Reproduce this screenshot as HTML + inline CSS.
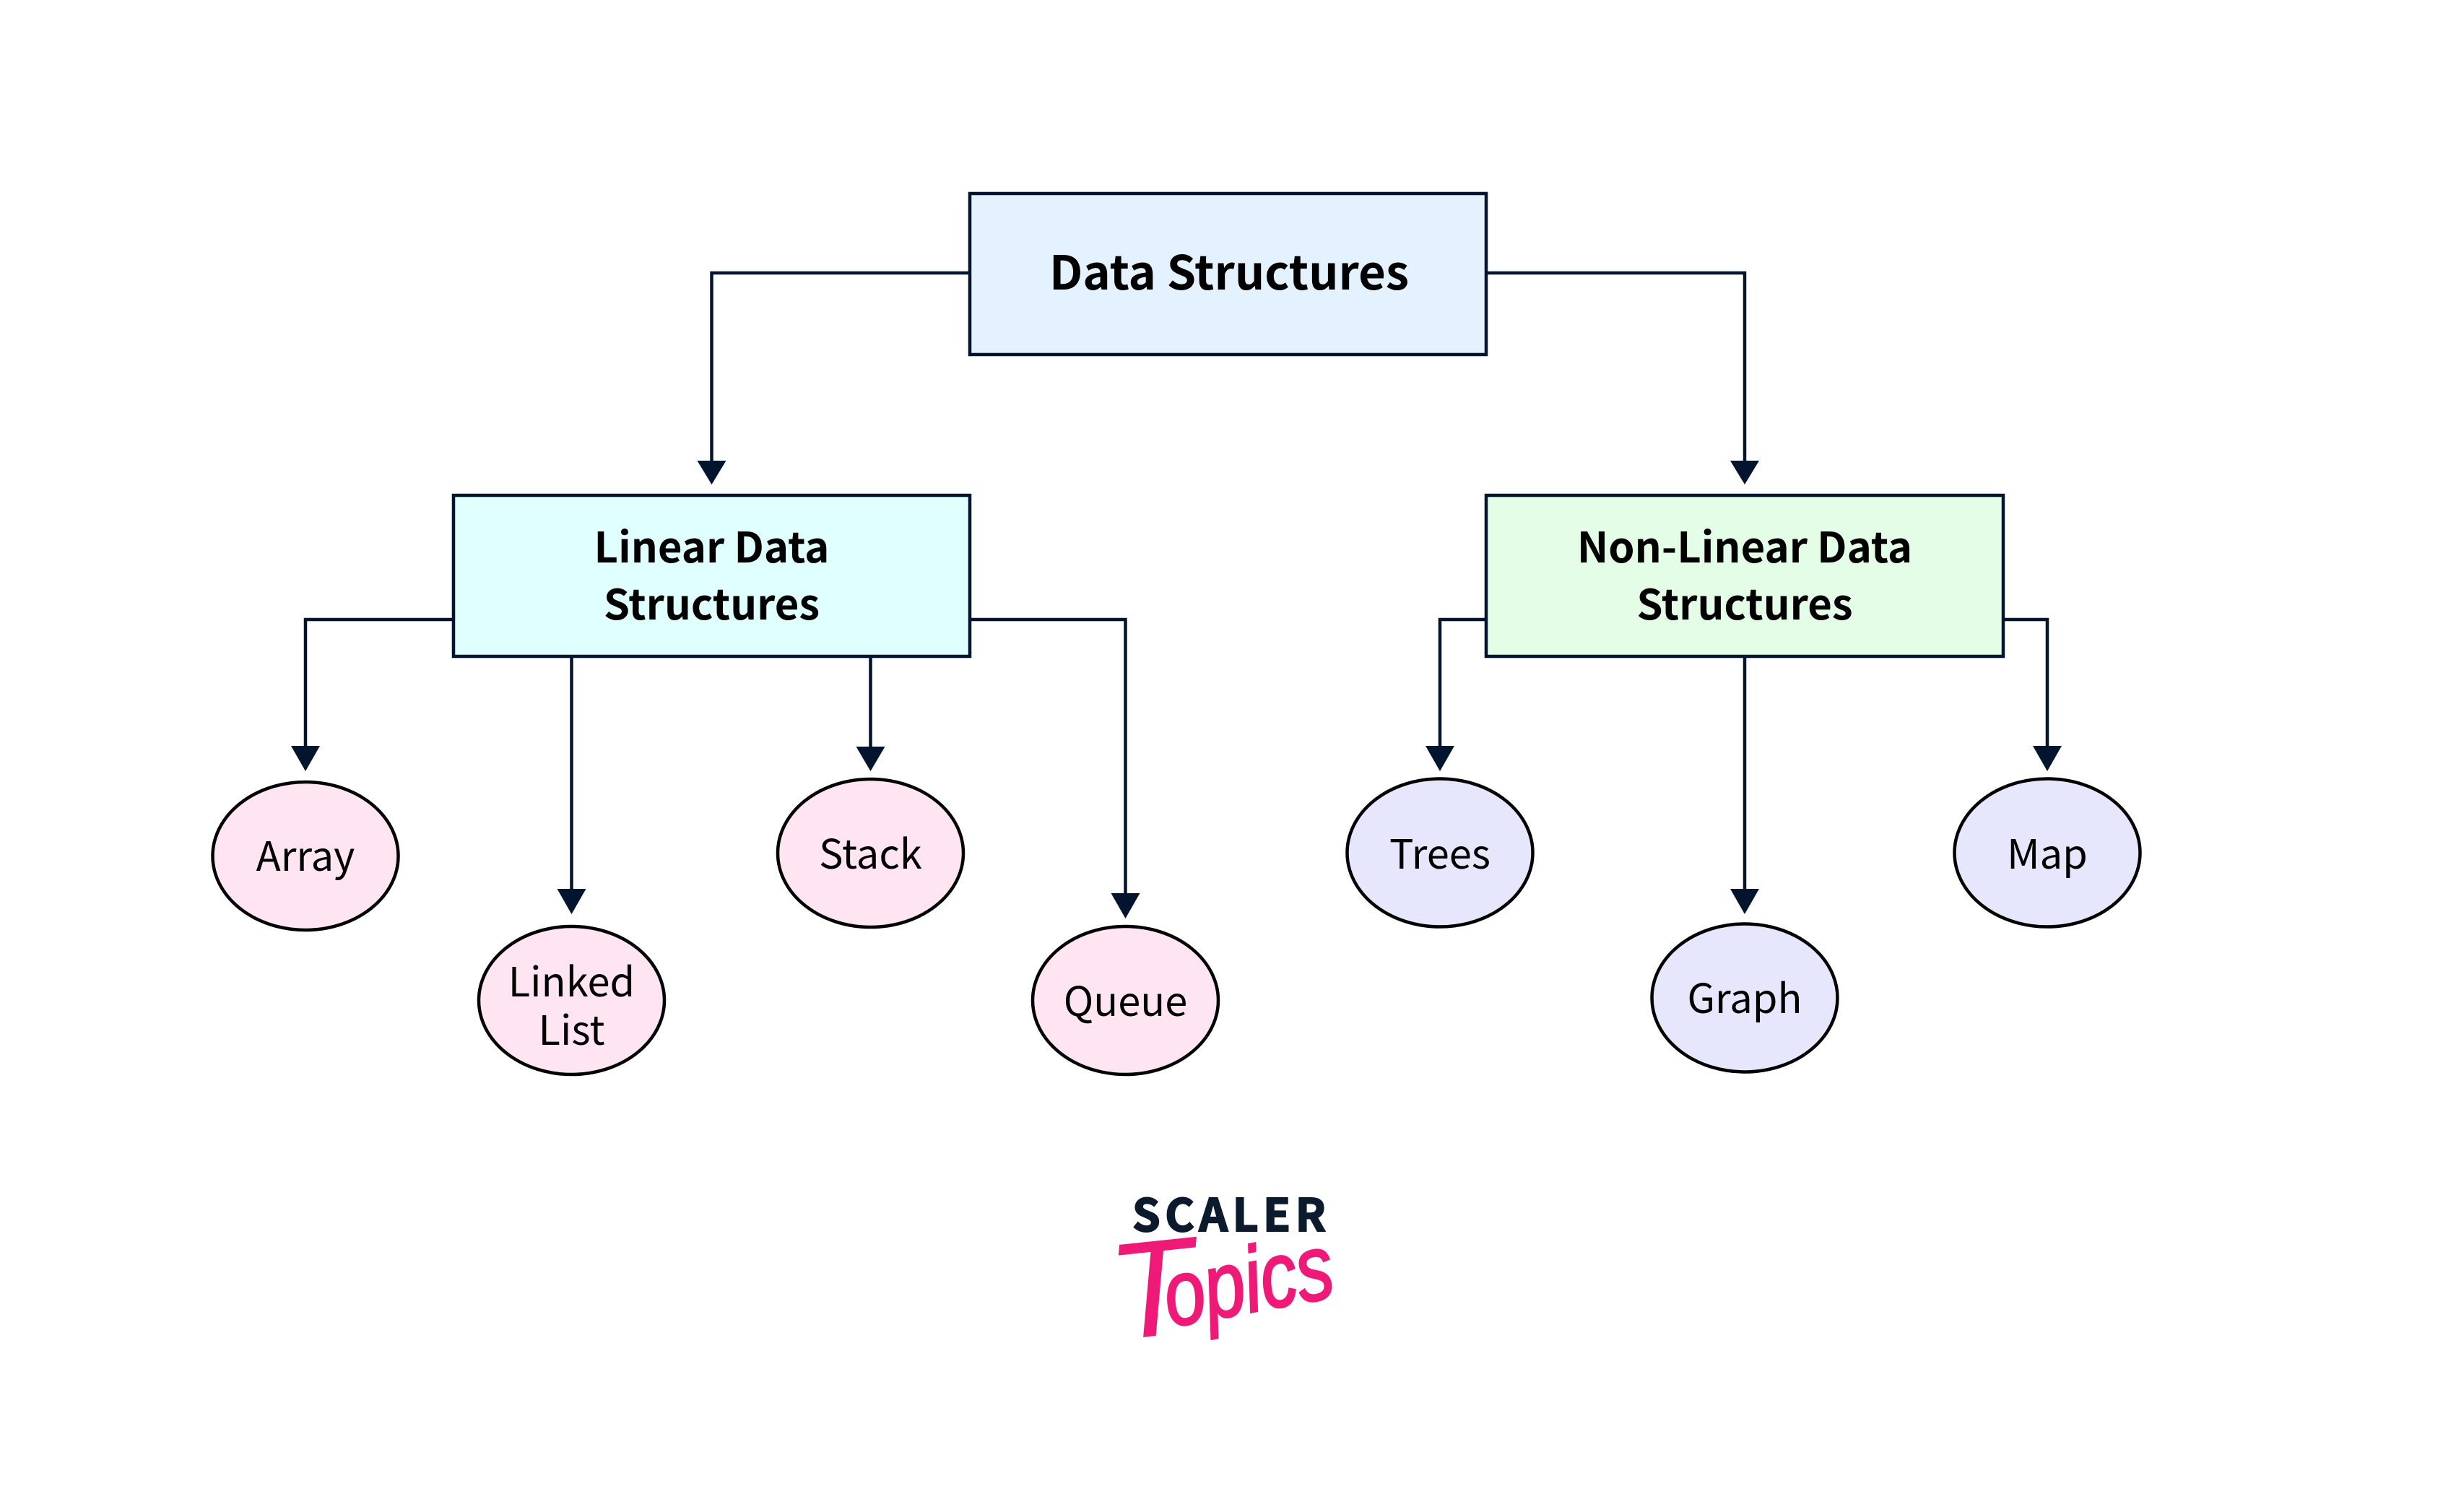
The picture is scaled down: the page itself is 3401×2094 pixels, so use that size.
<!DOCTYPE html>
<html><head><meta charset="utf-8"><style>
html,body{margin:0;padding:0;background:#fff;width:3401px;height:2094px;overflow:hidden}
svg{display:block}
text{font-family:"Noto Sans CJK SC","Liberation Sans",sans-serif;fill:#000;text-anchor:middle}
.b{font-weight:700;font-size:58px}
.t{font-weight:700;font-size:65px}
.n{font-size:56px}
</style></head><body>
<svg width="3401" height="2094" viewBox="0 0 3401 2094" xmlns="http://www.w3.org/2000/svg">
<rect width="3401" height="2094" fill="#fff"/>
<g fill="none" stroke="#03142f" stroke-width="4.5">
<path d="M1343 378H985.500V640"/>
<path d="M2058 378H2416V640"/>
<path d="M628 858H423V1036"/>
<path d="M791.500 909V1233"/>
<path d="M1205.500 909V1036"/>
<path d="M1343 858H1558.500V1240"/>
<path d="M2058 858H1994V1036"/>
<path d="M2416 909V1233"/>
<path d="M2774 858H2835V1036"/>
</g>
<g fill="#03142f">
<path d="M965.500 638h40l-20 33z"/>
<path d="M2396 638h40l-20 33z"/>
<path d="M403 1033h40l-20 35z"/>
<path d="M771.500 1231h40l-20 35z"/>
<path d="M1185.500 1034h40l-20 34z"/>
<path d="M1538.500 1237h40l-20 35z"/>
<path d="M1974 1033h40l-20 35z"/>
<path d="M2396 1231h40l-20 35z"/>
<path d="M2815 1033h40l-20 35z"/>
</g>
<g stroke="#03142f" stroke-width="4.500">
<rect x="1343" y="268" width="715" height="223" fill="#e3f2fe"/>
<rect x="628" y="686" width="715" height="223" fill="#e0ffff"/>
<rect x="2058" y="686" width="716" height="223" fill="#e3fde7"/>
</g>
<g stroke="#000" stroke-width="4.500" fill="#fee5f1">
<ellipse cx="423" cy="1185.500" rx="128.500" ry="102.500"/>
<ellipse cx="791.500" cy="1385.500" rx="128.500" ry="102.500"/>
<ellipse cx="1205.500" cy="1181.500" rx="128.500" ry="102.500"/>
<ellipse cx="1558.500" cy="1385.500" rx="128.500" ry="102.500"/>
</g>
<g stroke="#000" stroke-width="4.500" fill="#e6e6fd">
<ellipse cx="1994" cy="1181" rx="128.500" ry="102.500"/>
<ellipse cx="2416" cy="1382" rx="128.500" ry="102.500"/>
<ellipse cx="2835" cy="1181" rx="128.500" ry="102.500"/>
</g>
<text class="t" x="1702" y="401">Data Structures</text>
<text class="b" x="985.500" y="779">Linear Data</text>
<text class="b" x="985.500" y="858">Structures</text>
<text class="b" x="2416" y="779">Non-Linear Data</text>
<text class="b" x="2416" y="858">Structures</text>
<text class="n" x="423" y="1206">Array</text>
<text class="n" x="791.500" y="1380">Linked</text>
<text class="n" x="791.500" y="1447">List</text>
<text class="n" x="1205.500" y="1203">Stack</text>
<text class="n" x="1558.500" y="1407">Queue</text>
<text class="n" x="1994" y="1203">Trees</text>
<text class="n" x="2416" y="1403">Graph</text>
<text class="n" x="2835" y="1203">Map</text>
<text x="1568" y="1705" textLength="268" lengthAdjust="spacing" style="font-family:'Noto Sans CJK SC','Liberation Sans',sans-serif;font-weight:700;font-size:62px;fill:#0c1a2e;text-anchor:start;stroke:#0c1a2e;stroke-width:2">SCALER</text>
<text x="1544" y="1856" transform="rotate(-6 1544 1856)" style="font-family:'Liberation Sans',sans-serif;font-style:italic;font-size:190px;fill:#ef1a78;text-anchor:start">T</text>
<text x="1620" y="1838" transform="rotate(-10.500 1620 1838)" textLength="236" lengthAdjust="spacingAndGlyphs" style="font-family:'Liberation Sans',sans-serif;font-style:italic;font-size:128px;fill:#ef1a78;stroke:#ef1a78;stroke-width:3;text-anchor:start">opics</text>
</svg>
</body></html>
